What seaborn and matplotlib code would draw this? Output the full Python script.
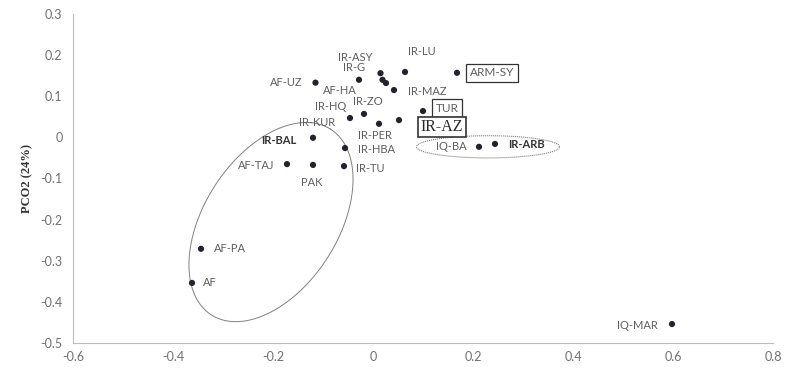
import numpy as np
import pandas as pd
import matplotlib
matplotlib.use("Agg")
import matplotlib.pyplot as plt
import seaborn as sns

# 数据 (PC1, PC2) 从图上读取
labels = ["AF-UZ", "IR-G", "IR-ASY", "AF-HA", "IR-ZO", "IR-MAZ", "IR-LU",
          "ARM-SY", "TUR", "IR-AZ", "IR-PER", "IR-HQ", "IR-KUR", "IR-BAL",
          "IR-HBA", "IQ-BA", "IR-ARB", "AF-TAJ", "PAK", "IR-TU", "AF-PA",
          "AF", "IQ-MAR"]
pc1 = [-0.115, -0.028, 0.015, 0.019, 0.026, 0.042, 0.064,
       0.168, 0.100, 0.052, 0.012, -0.018, -0.046, -0.120,
       -0.056, 0.212, 0.244, -0.172, -0.120, -0.058, -0.344,
       -0.362, 0.598]
pc2 = [0.133, 0.140, 0.156, 0.140, 0.132, 0.115, 0.159,
       0.157, 0.064, 0.042, 0.033, 0.057, 0.047, -0.001,
       -0.026, -0.023, -0.016, -0.065, -0.067, -0.070, -0.271,
       -0.354, -0.454]
xticks = [-0.6, -0.4, -0.2, 0, 0.2, 0.4, 0.6, 0.8]
yticks = [-0.5, -0.4, -0.3, -0.2, -0.1, 0, 0.1, 0.2, 0.3]

df = pd.DataFrame({"label": labels, "PC1": pc1, "PC2": pc2})

# 标签偏移 (像素) 和样式
offsets = {"AF-UZ": (-29, 0), "IR-G": (-5, 12), "IR-ASY": (-25, 16),
           "AF-HA": (-43, -11), "IR-ZO": (-18, -18), "IR-MAZ": (33, -1),
           "IR-LU": (17, 20), "ARM-SY": (35, 0), "TUR": (24, 3),
           "IR-AZ": (43, -7), "IR-PER": (-4, -12), "IR-HQ": (-33, 7),
           "IR-KUR": (-33, -4), "IR-BAL": (-34, -3), "IR-HBA": (32, -1),
           "IQ-BA": (-28, 0), "IR-ARB": (31, -1), "AF-TAJ": (-31, -1),
           "PAK": (-1, -18), "IR-TU": (26, -2), "AF-PA": (29, 0),
           "AF": (18, 0), "IQ-MAR": (-35, -1)}
boxed = ["ARM-SY", "TUR"]
bold = ["IR-BAL", "IR-ARB"]

sns.set_style("white")
plt.rcParams['font.family'] = ['Lato', 'DejaVu Sans']

fig = plt.figure(figsize=(7.96, 3.68), dpi=100)
ax = fig.add_axes([0.0917, 0.068, 0.8794, 0.894])

sns.scatterplot(data=df, x="PC1", y="PC2", ax=ax, color="#23232e",
                s=20, edgecolor="none", zorder=3)

txt_col = "#5e5e5e"
for lab, x, y in zip(labels, pc1, pc2):
    dx, dy = offsets[lab]
    kw = dict(fontsize=8, color=txt_col)
    if lab in bold:
        kw.update(fontweight="bold", color="#333333")
    if lab in boxed:
        kw.update(fontsize=8.5, bbox=dict(boxstyle="square,pad=0.3", fc="white",
                                          ec="#333333", lw=0.9))
    if lab == "IR-AZ":
        kw = dict(fontsize=11.5, color="#2a2a2a", family="Liberation Serif",
                  bbox=dict(boxstyle="square,pad=0.15", fc="white",
                            ec="#333333", lw=1.2))
    ax.annotate(lab, (x, y), xytext=(dx, dy), textcoords="offset pixels",
                ha="center", va="center", zorder=4, **kw)

# 手绘椭圆
t = np.linspace(0, 2 * np.pi, 300)
c = np.array([-0.204, -0.206])
u = np.array([0.119, 0.226])
v = np.array([0.113, -0.087])
ex = c[0] + u[0] * np.cos(t) + v[0] * np.sin(t)
ey = c[1] + u[1] * np.cos(t) + v[1] * np.sin(t)
ax.plot(ex, ey, color="#808080", lw=0.7, zorder=2)

c2 = np.array([0.23, -0.023])
ex2 = c2[0] + 0.143 * np.cos(t)
ey2 = c2[1] + 0.027 * np.sin(t)
ax.plot(ex2, ey2, color="#808080", lw=0.8, ls=(0, (1, 0.8)), zorder=2)

ax.set_xlim(-0.6, 0.8)
ax.set_ylim(-0.5, 0.3)
ax.set_xticks(xticks)
ax.set_yticks(yticks)
ax.set_xticklabels([f"{v:g}" for v in xticks])
ax.set_yticklabels([f"{v:g}" for v in yticks])
ax.tick_params(axis="both", labelsize=9, colors="#bbbbbb", labelcolor="#707070",
               length=3, width=0.6, direction="inout")
ax.tick_params(axis="y", pad=6)
ax.tick_params(axis="x", pad=4)

for s in ["top", "right"]:
    ax.spines[s].set_visible(False)
for s in ["left", "bottom"]:
    ax.spines[s].set_color("#bbbbbb")
    ax.spines[s].set_linestyle((0, (1, 1)))
    ax.spines[s].set_linewidth(0.8)

ax.set_xlabel("")
ax.set_ylabel("PCO2 (24%)", family="Liberation Serif", fontweight="bold",
              fontsize=9, color="#333333", labelpad=5)

plt.savefig("out.png", dpi=100)
